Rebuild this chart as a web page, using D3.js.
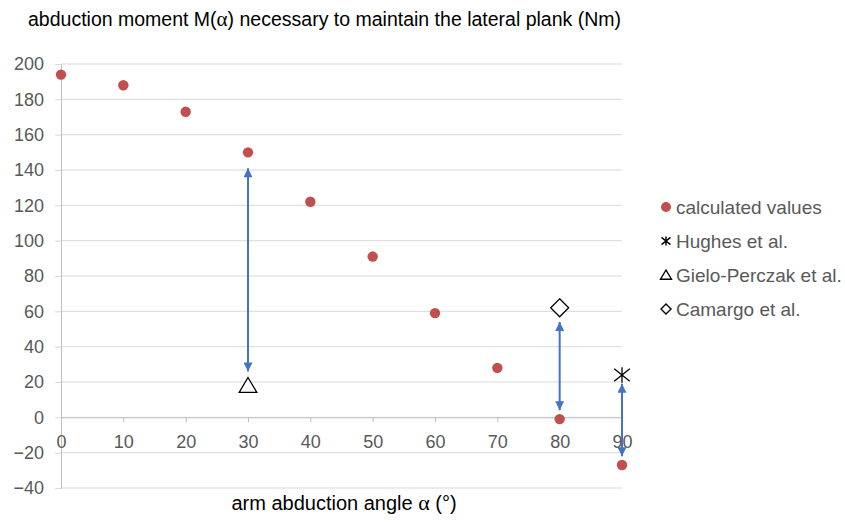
<!DOCTYPE html>
<html>
<head>
<meta charset="utf-8">
<script src="https://cdn.jsdelivr.net/npm/d3@7"></script>
<style>
  body { margin: 0; background: #fff; }
  svg { font-family: "Liberation Sans", Arial, sans-serif; }
</style>
</head>
<body>
<svg id="chart" width="845" height="522"></svg>
<script>
// calculated moment values, by arm abduction angle
var angles = [0, 10, 20, 30, 40, 50, 60, 70, 80, 90];
var calcValues = [194, 188, 173, 150, 122, 91, 59, 28, -1, -27];

// literature values
var hughes = [{x: 90, y: 24}];
var gielo = [{x: 30, y: 18}];
var camargo = [{x: 80, y: 62}];

// double arrows between calculated and measured values
var arrows = [
  {x: 30, top: 141, bottom: 26},
  {x: 80, top: 54, bottom: 4},
  {x: 90, top: 19, bottom: -22}
];

var yTicks = [-40, -20, 0, 20, 40, 60, 80, 100, 120, 140, 160, 180, 200];
var xTicks = [0, 10, 20, 30, 40, 50, 60, 70, 80, 90];

var legendItems = ["calculated values", "Hughes et al.", "Gielo-Perczak et al.", "Camargo et al."];

var red = "#c0504d", blue = "#4472c4", grey = "#595959";

var svg = d3.select("#chart");

var x = d3.scaleLinear().domain([0, 90]).range([61, 622]);
var y = d3.scaleLinear().domain([-40, 200]).range([488, 64]);

var defs = svg.append("defs");
defs.append("marker")
    .attr("id", "arr")
    .attr("viewBox", "0 0 10 10")
    .attr("refX", 10).attr("refY", 5)
    .attr("markerWidth", 10).attr("markerHeight", 9)
    .attr("markerUnits", "userSpaceOnUse")
    .attr("orient", "auto-start-reverse")
  .append("path")
    .attr("d", "M0,0 L10,5 L0,10 Z")
    .attr("fill", blue);

// gridlines
svg.append("g")
  .selectAll("line")
  .data(yTicks)
  .join("line")
    .attr("x1", x(0)).attr("x2", x(90))
    .attr("y1", d => y(d)).attr("y2", d => y(d))
    .attr("stroke", "#d9d9d9")
    .attr("stroke-width", 1);

// y axis
var yAxis = svg.append("g")
    .attr("transform", "translate(" + x(0) + ",0)")
    .call(d3.axisLeft(y).tickValues(yTicks).tickSize(6).tickPadding(11));
yAxis.select(".domain").attr("stroke", "#bfbfbf");
yAxis.selectAll(".tick line").attr("stroke", "#d9d9d9");
yAxis.selectAll("text")
    .attr("fill", grey)
    .style("font-size", "18px")
    .style("font-family", "Liberation Sans, Arial, sans-serif");

// x axis crossing at zero
var xAxis = svg.append("g")
    .attr("transform", "translate(0," + y(0) + ")")
    .call(d3.axisBottom(x).tickValues(xTicks).tickSize(5).tickPadding(13));
xAxis.select(".domain").attr("stroke", "#bfbfbf");
xAxis.selectAll(".tick line").attr("stroke", "#bfbfbf");
xAxis.selectAll("text")
    .attr("fill", grey)
    .style("font-size", "18px")
    .style("font-family", "Liberation Sans, Arial, sans-serif");

// arrows
svg.append("g")
  .selectAll("line")
  .data(arrows)
  .join("line")
    .attr("x1", d => x(d.x)).attr("x2", d => x(d.x))
    .attr("y1", d => y(d.top)).attr("y2", d => y(d.bottom))
    .attr("stroke", blue)
    .attr("stroke-width", 2)
    .attr("marker-start", "url(#arr)")
    .attr("marker-end", "url(#arr)");

// calculated values
svg.append("g")
  .selectAll("circle")
  .data(angles)
  .join("circle")
    .attr("cx", d => x(d))
    .attr("cy", (d, i) => y(calcValues[i]))
    .attr("r", 5.2)
    .attr("fill", red);

function starPath(s) {
  return "M" + (-s) + "," + (-s * 0.8) + "L" + s + "," + (s * 0.8) +
    "M" + (-s) + "," + (s * 0.8) + "L" + s + "," + (-s * 0.8) +
    "M0," + (-s) + "L0," + s;
}
function triPath(s) {
  return "M0," + (-s) + "L" + (s * 1.1) + "," + (s * 0.85) + "L" + (-s * 1.1) + "," + (s * 0.85) + "Z";
}
function diaPath(s) {
  return "M0," + (-s) + "L" + s + ",0L0," + s + "L" + (-s) + ",0Z";
}

svg.append("g").selectAll("path").data(hughes).join("path")
    .attr("transform", d => "translate(" + x(d.x) + "," + y(d.y) + ")")
    .attr("d", starPath(7.8))
    .attr("fill", "none").attr("stroke", "#000").attr("stroke-width", 1.3);

svg.append("g").selectAll("path").data(gielo).join("path")
    .attr("transform", d => "translate(" + x(d.x) + "," + y(d.y) + ")")
    .attr("d", triPath(8))
    .attr("fill", "#fff").attr("stroke", "#000").attr("stroke-width", 1.3);

svg.append("g").selectAll("path").data(camargo).join("path")
    .attr("transform", d => "translate(" + x(d.x) + "," + y(d.y) + ")")
    .attr("d", diaPath(9))
    .attr("fill", "#fff").attr("stroke", "#000").attr("stroke-width", 1.3);

// title
var title = svg.append("text")
    .attr("x", 28).attr("y", 26)
    .attr("fill", "#000")
    .style("font-size", "19.5px");
title.append("tspan").text("abduction moment M(");
title.append("tspan").style("font-family", "Liberation Serif, serif").style("font-size", "21px").text("\u03b1");
title.append("tspan").text(") necessary to maintain the lateral plank (Nm)");

// x axis title
var xt = svg.append("text")
    .attr("x", 344).attr("y", 510)
    .attr("text-anchor", "middle")
    .attr("fill", "#000")
    .style("font-size", "20px");
xt.append("tspan").text("arm abduction angle ");
xt.append("tspan").style("font-family", "Liberation Serif, serif").style("font-size", "22px").text("\u03b1");
xt.append("tspan").text(" (\u00b0)");

// legend
var lg = svg.append("g").attr("transform", "translate(666,207)");
var rows = lg.selectAll("g").data(legendItems).join("g")
    .attr("transform", (d, i) => "translate(0," + (i * 34) + ")");
rows.append("text")
    .attr("x", 10).attr("y", 6.5)
    .attr("fill", grey)
    .style("font-size", "19px")
    .text(d => d);
rows.each(function(d, i) {
  var g = d3.select(this);
  if (i === 0) {
    g.append("circle").attr("r", 5).attr("fill", red);
  } else if (i === 1) {
    g.append("path").attr("d", starPath(4.5)).attr("fill", "none").attr("stroke", "#000").attr("stroke-width", 1.4);
  } else if (i === 2) {
    g.append("path").attr("d", triPath(5)).attr("fill", "#fff").attr("stroke", "#000").attr("stroke-width", 1.4);
  } else {
    g.append("path").attr("d", diaPath(5)).attr("fill", "#fff").attr("stroke", "#000").attr("stroke-width", 1.4);
  }
});
</script>
</body>
</html>
